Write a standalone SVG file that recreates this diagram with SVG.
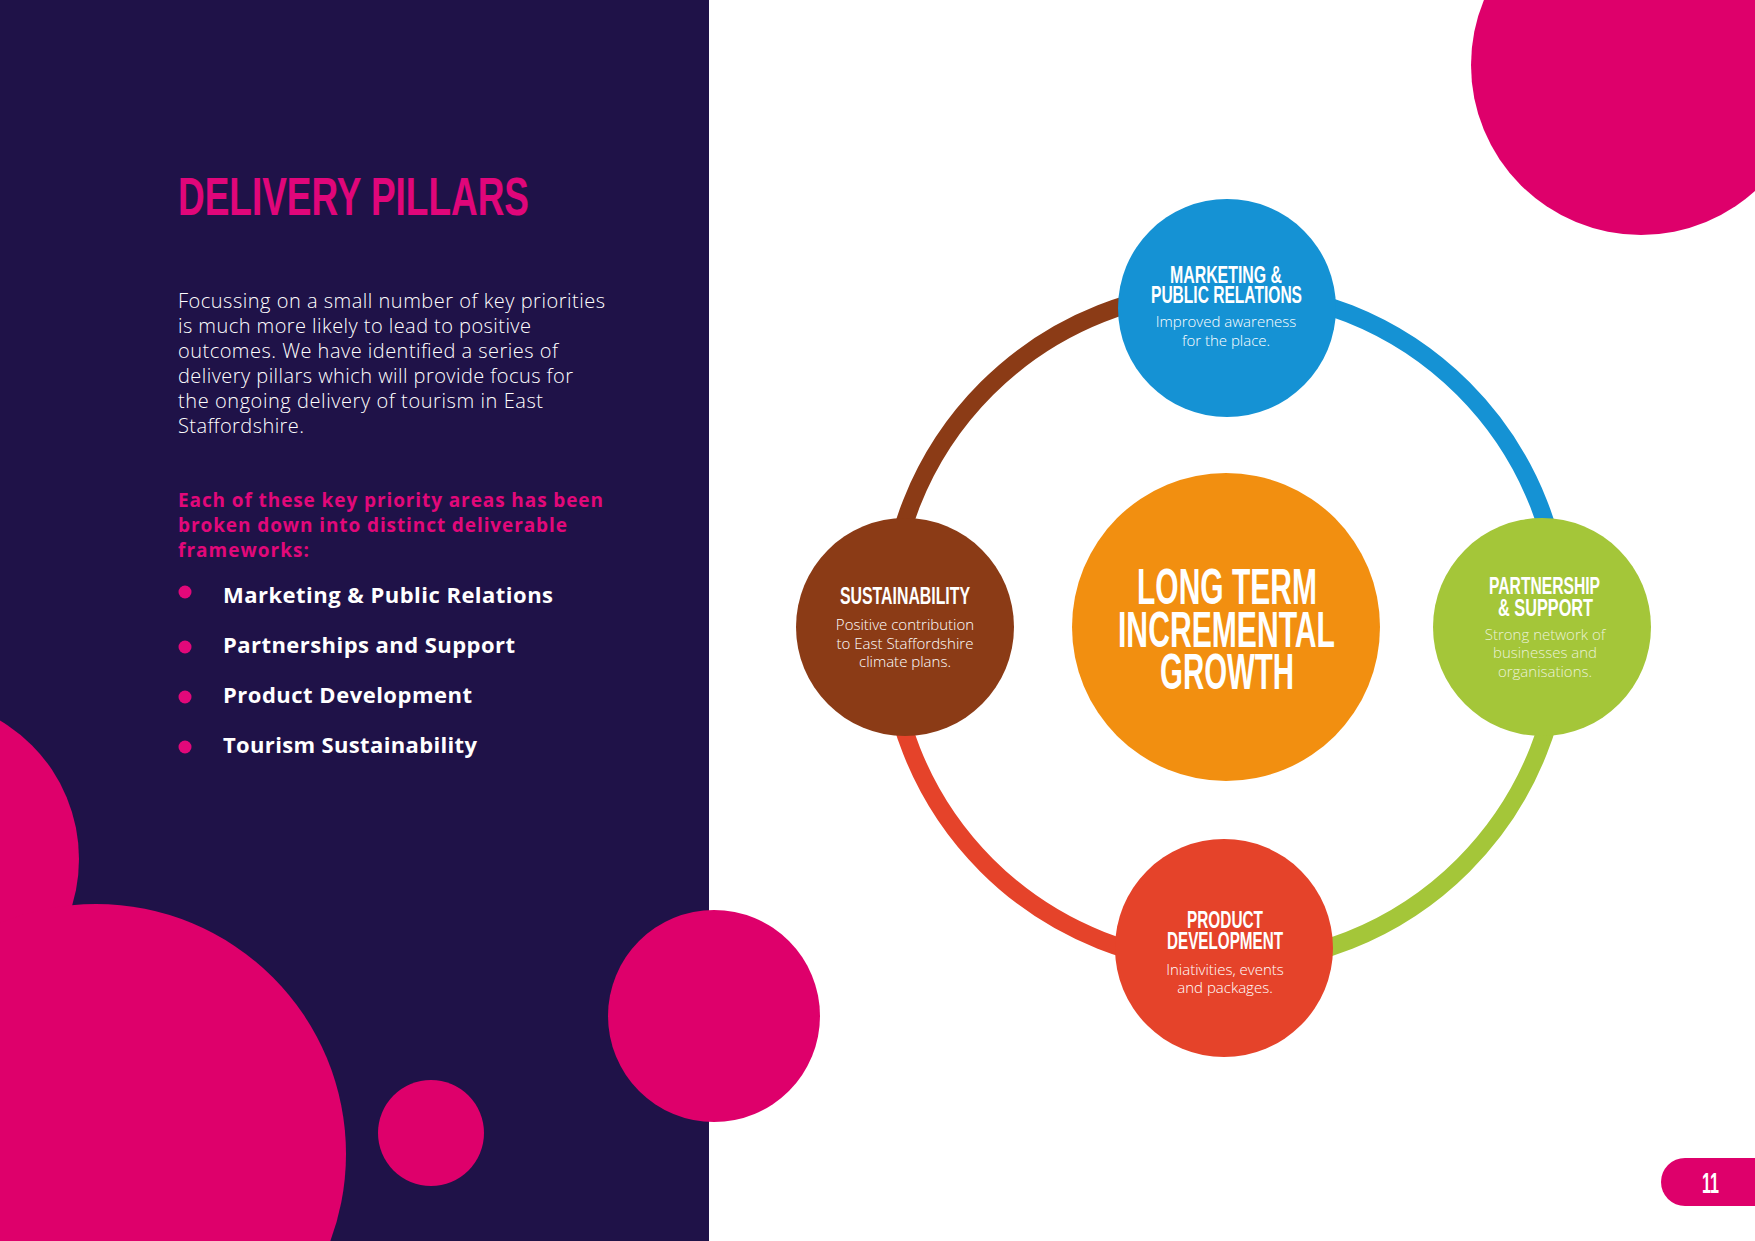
<svg xmlns="http://www.w3.org/2000/svg" width="1755" height="1241" viewBox="0 0 1755 1241">
<style>
.bg-dark{fill:#1f1248}
.pink{fill:#de006b}
.cond{font-family:"Liberation Sans",Arial,sans-serif;font-weight:700;fill:#ffffff}
.body{font-family:"Open Sans","Noto Sans",sans-serif;font-weight:300;fill:#ffffff;font-size:20px}
.pinkb{font-family:"Open Sans","Noto Sans",sans-serif;font-weight:700;fill:#e2087a;font-size:19px}
.bullet{font-family:"Open Sans","Noto Sans",sans-serif;font-weight:700;fill:#ffffff;font-size:22px}
.desc{font-family:"Open Sans","Noto Sans",sans-serif;font-weight:300;fill:#ffffff;font-size:15px;text-anchor:middle}
.arc{fill:none;stroke-width:18;stroke-linecap:butt}
</style>
<rect x="0" y="0" width="1755" height="1241" fill="#ffffff"/>
<rect class="bg-dark" x="0" y="0" width="709" height="1241"/>
<!-- decorative circles -->
<circle class="pink" cx="-82" cy="859" r="161"/>
<circle class="pink" cx="96" cy="1154" r="250"/>
<circle class="pink" cx="431" cy="1133" r="53"/>
<circle class="pink" cx="714" cy="1016" r="106"/>
<circle class="pink" cx="1641" cy="65" r="170"/>
<!-- page number -->
<g id="page-number">
<rect class="pink" x="1661" y="1158" width="120" height="48" rx="24"/>
<text class="cond" x="1702" y="1193" font-size="29" textLength="17" lengthAdjust="spacingAndGlyphs">11</text>
</g>
<!-- left text -->
<g id="heading">
<text class="cond" x="178" y="215" font-size="53.5" style="fill:#e0067a" textLength="351" lengthAdjust="spacingAndGlyphs">DELIVERY PILLARS</text>
</g>
<g id="intro">
<text class="body" x="178" y="308" textLength="427">Focussing on a small number of key priorities</text>
<text class="body" x="178" y="333" textLength="353">is much more likely to lead to positive</text>
<text class="body" x="178" y="358" textLength="380">outcomes. We have identified a series of</text>
<text class="body" x="178" y="383" textLength="395">delivery pillars which will provide focus for</text>
<text class="body" x="178" y="408" textLength="365">the ongoing delivery of tourism in East</text>
<text class="body" x="178" y="433" textLength="126">Staffordshire.</text>
</g>
<g id="frameworks">
<text class="pinkb" x="178" y="507" textLength="425">Each of these key priority areas has been</text>
<text class="pinkb" x="178" y="532" textLength="389">broken down into distinct deliverable</text>
<text class="pinkb" x="178" y="557" textLength="131">frameworks:</text>
</g>
<g id="bullets">
<circle cx="185" cy="592" r="6.5" fill="#e2087a"/>
<circle cx="185" cy="647" r="6.5" fill="#e2087a"/>
<circle cx="185" cy="697" r="6.5" fill="#e2087a"/>
<circle cx="185" cy="747" r="6.5" fill="#e2087a"/>
<text class="bullet" x="223" y="603" textLength="330">Marketing &amp; Public Relations</text>
<text class="bullet" x="223" y="653" textLength="292">Partnerships and Support</text>
<text class="bullet" x="223" y="703" textLength="249">Product Development</text>
<text class="bullet" x="223" y="753" textLength="254">Tourism Sustainability</text>
</g>
<!-- connectors (ring) -->
<g id="connectors">
<path class="arc" stroke="#8b3b16" d="M888 627 A337 337 0 0 1 1225 290"/>
<path class="arc" stroke="#1592d4" d="M1225 290 A337 337 0 0 1 1562 627"/>
<path class="arc" stroke="#a4c639" d="M1562 627 A337 337 0 0 1 1225 964"/>
<path class="arc" stroke="#e5432a" d="M1225 964 A337 337 0 0 1 888 627"/>
</g>
<!-- nodes -->
<g id="node-center">
<circle cx="1226" cy="627" r="154" fill="#f28f10"/>
<text class="cond" font-size="50"><tspan x="1137" y="604" textLength="180" lengthAdjust="spacingAndGlyphs">LONG TERM</tspan><tspan x="1118" y="647" textLength="217" lengthAdjust="spacingAndGlyphs">INCREMENTAL</tspan><tspan x="1160" y="689" textLength="134" lengthAdjust="spacingAndGlyphs">GROWTH</tspan></text>
</g>
<g id="node-marketing">
<circle cx="1227" cy="308" r="109" fill="#1592d4"/>
<text class="cond" font-size="24"><tspan x="1170" y="283" textLength="112" lengthAdjust="spacingAndGlyphs">MARKETING &amp;</tspan><tspan x="1151" y="303" textLength="151" lengthAdjust="spacingAndGlyphs">PUBLIC RELATIONS</tspan></text>
<text class="desc" x="1226" y="327">Improved awareness</text>
<text class="desc" x="1226" y="346">for the place.</text>
</g>
<g id="node-sustainability">
<circle cx="905" cy="627" r="109" fill="#8b3b16"/>
<text class="cond" x="840" y="604" font-size="24" textLength="130" lengthAdjust="spacingAndGlyphs">SUSTAINABILITY</text>
<text class="desc" x="905" y="630">Positive contribution</text>
<text class="desc" x="905" y="648.5">to East Staffordshire</text>
<text class="desc" x="905" y="667">climate plans.</text>
</g>
<g id="node-partnership">
<circle cx="1542" cy="627" r="109" fill="#a4c639"/>
<text class="cond" font-size="24"><tspan x="1489" y="593.5" textLength="111" lengthAdjust="spacingAndGlyphs">PARTNERSHIP</tspan><tspan x="1498" y="615.5" textLength="95" lengthAdjust="spacingAndGlyphs">&amp; SUPPORT</tspan></text>
<text class="desc" x="1545" y="640" fill-opacity="0.8">Strong network of</text>
<text class="desc" x="1545" y="658" fill-opacity="0.8">businesses and</text>
<text class="desc" x="1545" y="676.5" fill-opacity="0.8">organisations.</text>
</g>
<g id="node-product">
<circle cx="1224" cy="948" r="109" fill="#e5432a"/>
<text class="cond" font-size="24"><tspan x="1187" y="928" textLength="76" lengthAdjust="spacingAndGlyphs">PRODUCT</tspan><tspan x="1167" y="949" textLength="116" lengthAdjust="spacingAndGlyphs">DEVELOPMENT</tspan></text>
<text class="desc" x="1225" y="975">Iniativities, events</text>
<text class="desc" x="1225" y="993">and packages.</text>
</g>
</svg>
